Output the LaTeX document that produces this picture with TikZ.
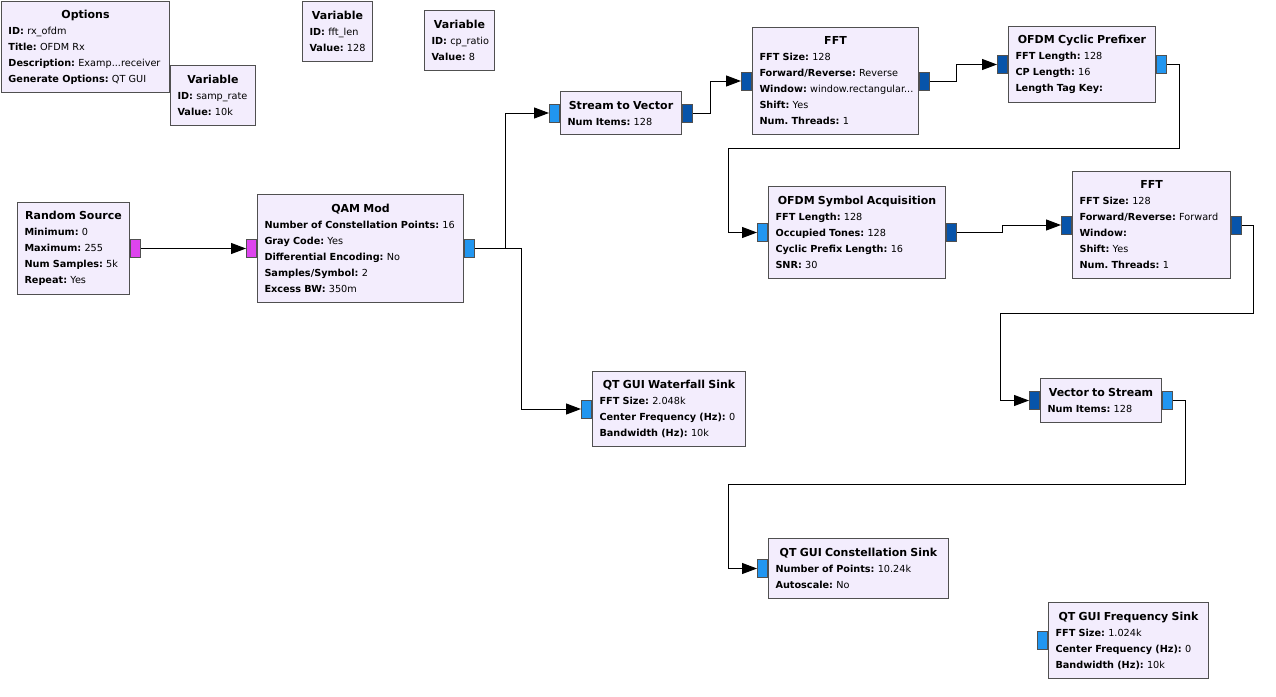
\documentclass[tikz,border=0pt]{standalone}
\usepackage{fontspec}
\setmainfont{DejaVu Sans}
\usepackage{xcolor}
\usetikzlibrary{arrows.meta, positioning, calc}
\frenchspacing

\definecolor{bfill}{HTML}{F3EDFD}
\definecolor{bdr}{HTML}{505050}
\definecolor{cplx}{HTML}{2196F0}
\definecolor{cvec}{HTML}{0754AA}
\definecolor{byt}{HTML}{DD44EE}

\newcommand{\hd}[1]{\makebox[\hsize]{\fontsize{11}{16}\selectfont\bfseries #1}\\}
\newcommand{\prm}[2]{\mbox{\textbf{#1:} #2}}

\begin{document}
\begin{tikzpicture}[x=1pt, y=-1pt,
        blk/.style={draw=bdr, fill=bfill, line width=1pt, anchor=north west, inner xsep=7pt, inner ysep=0pt, align=left, font=\fontsize{9.7}{16}\selectfont},
        port/.style={draw=bdr, line width=1pt, minimum width=10pt, minimum height=18pt, inner sep=0pt},
        wire/.style={line width=1pt, -{Triangle[length=15pt, width=11pt]}},
    ]
        \fill[white] (0,0) rectangle (1276,696);
        \useasboundingbox (0,0) rectangle (1276,696);

        % variables and options
        \node[blk, text width=154pt, minimum height=91pt] (opts) at (1,1) {\hd{Options}\prm{ID}{rx\_ofdm}\\\prm{Title}{OFDM Rx}\\\prm{Description}{Examp...receiver}\\\prm{Generate Options}{QT GUI}};
        \node[blk, text width=71pt, minimum height=60pt] (vsr) at (170,65) {\hd{Variable}\prm{ID}{samp\_rate}\\\prm{Value}{10k}};
        \node[blk, text width=56pt, minimum height=60pt] (vfft) at (302,0.5) {\hd{Variable}\prm{ID}{fft\_len}\\\prm{Value}{128}};
        \node[blk, text width=56pt, minimum height=60pt] (vcp) at (424,10) {\hd{Variable}\prm{ID}{cp\_ratio}\\\prm{Value}{8}};

        % blocks
        \node[blk, text width=98pt, minimum height=92pt] (rnd) at (17,202) {\hd{Random Source}\prm{Minimum}{0}\\\prm{Maximum}{255}\\\prm{Num Samples}{5k}\\\prm{Repeat}{Yes}};
        \node[blk, text width=192pt, minimum height=108pt] (qam) at (257,194) {\hd{QAM Mod}\prm{Number of Constellation Points}{16}\\\prm{Gray Code}{Yes}\\\prm{Differential Encoding}{No}\\\prm{Samples/Symbol}{2}\\\prm{Excess BW}{350m}};
        \node[blk, text width=107pt, minimum height=43pt] (s2v) at (560,91) {\hd{Stream to Vector}\prm{Num Items}{128}};
        \node[blk, text width=152pt, minimum height=107pt] (fft1) at (752,27) {\hd{FFT}\prm{FFT Size}{128}\\\prm{Forward/Reverse}{Reverse}\\\prm{Window}{window.rectangular...}\\\prm{Shift}{Yes}\\\prm{Num. Threads}{1}};
        \node[blk, text width=133pt, minimum height=76pt] (cp) at (1008,26) {\hd{OFDM Cyclic Prefixer}\prm{FFT Length}{128}\\\prm{CP Length}{16}\\\prm{Length Tag Key}{}};
        \node[blk, text width=163pt, minimum height=92pt] (osa) at (768,186) {\hd{OFDM Symbol Acquisition}\prm{FFT Length}{128}\\\prm{Occupied Tones}{128}\\\prm{Cyclic Prefix Length}{16}\\\prm{SNR}{30}};
        \node[blk, text width=144pt, minimum height=107pt] (fft2) at (1072,171) {\hd{FFT}\prm{FFT Size}{128}\\\prm{Forward/Reverse}{Forward}\\\prm{Window}{}\\\prm{Shift}{Yes}\\\prm{Num. Threads}{1}};
        \node[blk, text width=139pt, minimum height=75pt] (wf) at (592,371) {\hd{QT GUI Waterfall Sink}\prm{FFT Size}{2.048k}\\\prm{Center Frequency (Hz)}{0}\\\prm{Bandwidth (Hz)}{10k}};
        \node[blk, text width=107pt, minimum height=44pt] (vts) at (1040,378) {\hd{Vector to Stream}\prm{Num Items}{128}};
        \node[blk, text width=166pt, minimum height=60pt] (con) at (768,538) {\hd{QT GUI Constellation Sink}\prm{Number of Points}{10.24k}\\\prm{Autoscale}{No}};
        \node[blk, text width=146pt, minimum height=76pt] (frq) at (1048,602) {\hd{QT GUI Frequency Sink}\prm{FFT Size}{1.024k}\\\prm{Center Frequency (Hz)}{0}\\\prm{Bandwidth (Hz)}{10k}};

        % ports
        \node[port, fill=byt, anchor=west] (rnd-o) at (rnd.east) {};
        \node[port, fill=byt, anchor=east] (qam-i) at (qam.west) {};
        \node[port, fill=cplx, anchor=west] (qam-o) at (qam.east) {};
        \node[port, fill=cplx, anchor=east] (s2v-i) at (s2v.west) {};
        \node[port, fill=cvec, anchor=west] (s2v-o) at (s2v.east) {};
        \node[port, fill=cvec, anchor=east] (fft1-i) at (fft1.west) {};
        \node[port, fill=cvec, anchor=west] (fft1-o) at (fft1.east) {};
        \node[port, fill=cvec, anchor=east] (cp-i) at (cp.west) {};
        \node[port, fill=cplx, anchor=west] (cp-o) at (cp.east) {};
        \node[port, fill=cplx, anchor=east] (osa-i) at (osa.west) {};
        \node[port, fill=cvec, anchor=west] (osa-o) at (osa.east) {};
        \node[port, fill=cvec, anchor=east] (fft2-i) at (fft2.west) {};
        \node[port, fill=cvec, anchor=west] (fft2-o) at (fft2.east) {};
        \node[port, fill=cplx, anchor=east] (wf-i) at (wf.west) {};
        \node[port, fill=cvec, anchor=east] (vts-i) at (vts.west) {};
        \node[port, fill=cplx, anchor=west] (vts-o) at (vts.east) {};
        \node[port, fill=cplx, anchor=east] (con-i) at (con.west) {};
        \node[port, fill=cplx, anchor=east] (frq-i) at (frq.west) {};

        % connections
        \draw[wire] (rnd-o.east) -- (qam-i.west);
        \draw[wire] (qam-o.east) -- ++(30,0) |- (s2v-i.west);
        \draw[wire] (qam-o.east) -- ++(46,0) |- (wf-i.west);
        \draw[wire] (s2v-o.east) -- ++(17,0) |- (fft1-i.west);
        \draw[wire] (fft1-o.east) -- ++(26,0) |- (cp-i.west);
        \draw[wire] (cp-o.east) -- ++(12,0) -- ++(0,84) -| ([xshift=-29pt]osa-i.west) -- (osa-i.west);
        \draw[wire] (osa-o.east) -- ++(45,0) |- (fft2-i.west);
        \draw[wire] (fft2-o.east) -- ++(11,0) -- ++(0,88) -| ([xshift=-29pt]vts-i.west) -- (vts-i.west);
        \draw[wire] (vts-o.east) -- ++(12,0) -- ++(0,84) -| ([xshift=-29pt]con-i.west) -- (con-i.west);
    \end{tikzpicture}
\end{document}
